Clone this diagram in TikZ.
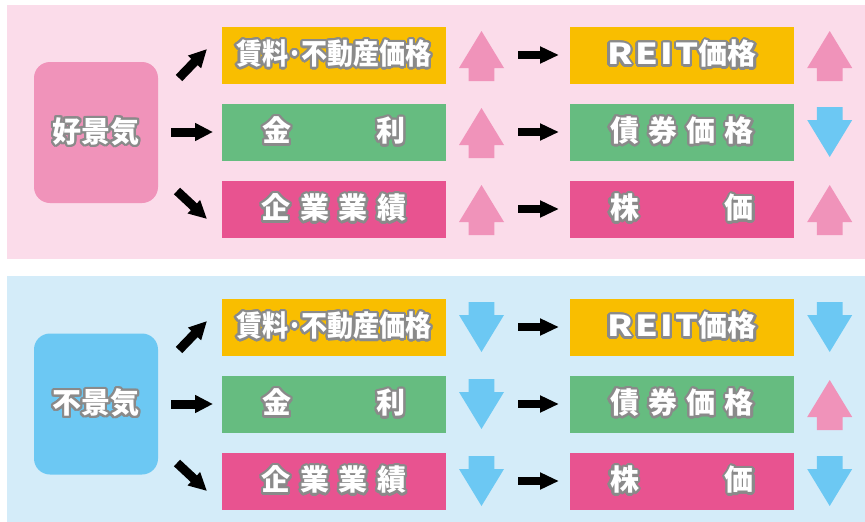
\documentclass[tikz,border=0pt]{standalone}
\usepackage{fontspec}
\usepackage[copies]{contour}
\usetikzlibrary{arrows.meta}
\newfontfamily\jp{Noto Sans CJK JP}
\contourlength{2.2pt}
\contournumber{24}
\definecolor{toppanel}{HTML}{FBDCEA}
\definecolor{botpanel}{HTML}{D4ECF9}
\definecolor{corange}{HTML}{F9BE00}
\definecolor{cgreen}{HTML}{66BC80}
\definecolor{cmag}{HTML}{E85390}
\definecolor{cpink}{HTML}{F093BA}
\definecolor{cblue}{HTML}{6CC8F3}
\definecolor{cgray}{HTML}{8A8A8A}
\newcommand\outl[1]{\contour{cgray}{#1}}
\tikzset{
  lbl/.style={text=white, font=\jp\bfseries\fontsize{29}{29}\selectfont, inner sep=0pt},
  itembox/.style={lbl, minimum width=224pt, minimum height=57pt},
  mainbox/.style={lbl, minimum width=124pt, minimum height=141pt, rounded corners=16pt},
  bigarrow/.style={line width=9pt, -{Triangle[length=18pt,width=17pt]}},
  smallarrow/.style={line width=8pt, -{Triangle[length=19pt,width=16pt]}},
  uparr/.pic={\fill[cpink] (0,-25) -- (22.5,12) -- (12.8,12) -- (12.8,25) -- (-12.8,25) -- (-12.8,12) -- (-22.5,12) -- cycle;},
  downarr/.pic={\fill[cblue] (0,25) -- (22.5,-12) -- (12.8,-12) -- (12.8,-25) -- (-12.8,-25) -- (-12.8,-12) -- (-22.5,-12) -- cycle;}
}
\newcommand\tA{\scalebox{0.9}[1]{賃料･不動産価格}}
\newcommand\tB{金\hspace{85pt}利}
\newcommand\tC{企\hspace{9.7pt}業\hspace{9.7pt}業\hspace{9.7pt}績}
\newcommand\tD{\scalebox{1.25}[1]{R\kern2pt E\kern2pt I\kern2pt T}価格}
\newcommand\tE{債\hspace{9.3pt}券\hspace{9.3pt}価\hspace{9.3pt}格}
\newcommand\tF{株\hspace{86pt}価}
\begin{document}
\begin{tikzpicture}[x=1pt,y=-1pt]
\useasboundingbox (0,0) rectangle (865,522);
\fill[toppanel] (7,5) rectangle (865,259);
\fill[botpanel] (7,276) rectangle (865,522);
% ---- top panel ----
\node[mainbox, fill=cpink] (g) at (96,132.5) {\outl{好景気}};
\node[itembox, fill=corange] (ga) at (334,55) {\outl{\tA}};
\node[itembox, fill=cgreen] (gb) at (334,132) {\outl{\tB}};
\node[itembox, fill=cmag] (gc) at (334,209) {\outl{\tC}};
\node[itembox, fill=corange] (gd) at (682,55) {\outl{\tD}};
\node[itembox, fill=cgreen] (ge) at (682,132) {\outl{\tE}};
\node[itembox, fill=cmag] (gf) at (682,209) {\outl{\tF}};
\coordinate (g1s) at (179,78); \coordinate (g1e) at (207,49);
\coordinate (g2s) at (171,132); \coordinate (g2e) at (213,132);
\coordinate (g3s) at (177,191); \coordinate (g3e) at (207,219);
\draw[bigarrow] (g1s) -- (g1e);
\draw[bigarrow] (g2s) -- (g2e);
\draw[bigarrow] (g3s) -- (g3e);
\pic at (481.5,56) {uparr};
\pic at (481.5,133) {uparr};
\pic at (481.5,210) {uparr};
\pic at (829.7,56) {uparr};
\pic at (829.7,132) {downarr};
\pic at (829.7,210) {uparr};
\foreach \r/\n in {55/a,132/b,209/c}{
  \coordinate (gs\n) at (518,\r); \coordinate (ge\n) at (559,\r);
  \draw[smallarrow] (gs\n) -- (ge\n);
}
% ---- bottom panel ----
\node[mainbox, fill=cblue] (f) at (96,404) {\outl{不景気}};
\node[itembox, fill=corange] (fa) at (334,327) {\outl{\tA}};
\node[itembox, fill=cgreen] (fb) at (334,404) {\outl{\tB}};
\node[itembox, fill=cmag] (fc) at (334,481) {\outl{\tC}};
\node[itembox, fill=corange] (fd) at (682,327) {\outl{\tD}};
\node[itembox, fill=cgreen] (fe) at (682,404) {\outl{\tE}};
\node[itembox, fill=cmag] (ff) at (682,481) {\outl{\tF}};
\coordinate (f1s) at (179,350); \coordinate (f1e) at (207,321);
\coordinate (f2s) at (171,404); \coordinate (f2e) at (213,404);
\coordinate (f3s) at (177,463); \coordinate (f3e) at (207,491);
\draw[bigarrow] (f1s) -- (f1e);
\draw[bigarrow] (f2s) -- (f2e);
\draw[bigarrow] (f3s) -- (f3e);
\pic at (481.5,327) {downarr};
\pic at (481.5,404) {downarr};
\pic at (481.5,481) {downarr};
\pic at (829.7,327) {downarr};
\pic at (829.7,405) {uparr};
\pic at (829.7,481) {downarr};
\foreach \r/\n in {327/a,404/b,481/c}{
  \coordinate (fs\n) at (518,\r); \coordinate (fe\n) at (559,\r);
  \draw[smallarrow] (fs\n) -- (fe\n);
}
\end{tikzpicture}
\end{document}
